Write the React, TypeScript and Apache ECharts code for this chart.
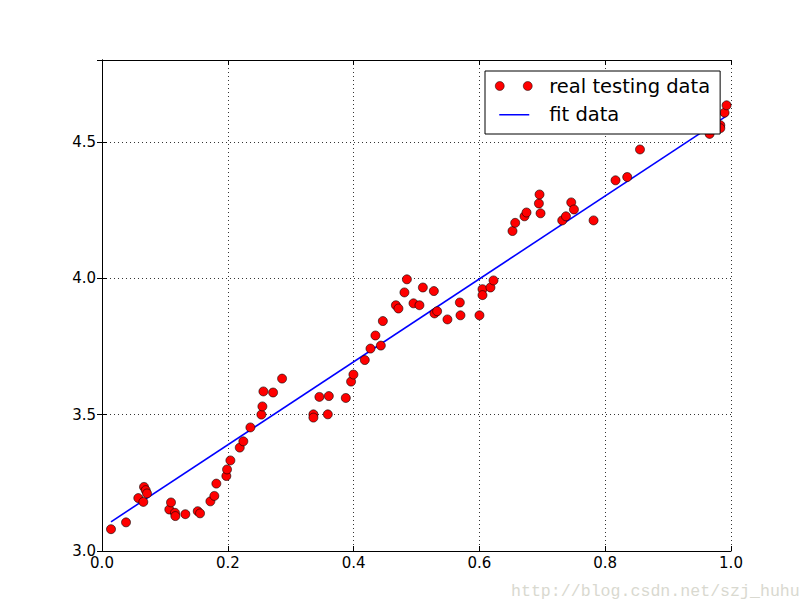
import React, { useEffect, useRef } from "react";
import * as echarts from "echarts";

// real testing data (x, y)
const realX = [
  0.0143, 0.0382, 0.0577, 0.0657, 0.0668, 0.0695, 0.0716, 0.107, 0.1097, 0.116,
  0.1166, 0.1325, 0.1522, 0.1559, 0.1723, 0.1786, 0.1818, 0.1977, 0.1988, 0.2041,
  0.219, 0.2247, 0.2359, 0.2534, 0.255, 0.2566, 0.272, 0.2863, 0.3361, 0.3361,
  0.359, 0.3456, 0.3606, 0.3876, 0.396, 0.3997, 0.4178, 0.4268, 0.4433, 0.4347,
  0.4465, 0.4672, 0.4713, 0.4808, 0.4847, 0.4952, 0.5047, 0.5101, 0.5276, 0.5286,
  0.5328, 0.5492, 0.5689, 0.5699, 0.6001, 0.6049, 0.6049, 0.6176, 0.6224, 0.6526,
  0.6569, 0.6717, 0.6749, 0.6946, 0.6956, 0.6972, 0.7317, 0.7376, 0.746, 0.7503,
  0.7815, 0.8164, 0.835, 0.8553, 0.966, 0.983, 0.983, 0.9898, 0.993,
];
const realY = [
  3.08, 3.105, 3.194, 3.18, 3.235, 3.223, 3.211, 3.152, 3.178, 3.14,
  3.128, 3.135, 3.146, 3.138, 3.182, 3.202, 3.247, 3.275, 3.299, 3.332,
  3.379, 3.402, 3.453, 3.5, 3.53, 3.585, 3.581, 3.632, 3.501, 3.489,
  3.501, 3.565, 3.568, 3.561, 3.621, 3.647, 3.7, 3.742, 3.753, 3.79,
  3.843, 3.901, 3.889, 3.948, 3.996, 3.908, 3.901, 3.966, 3.953, 3.871,
  3.879, 3.849, 3.911, 3.864, 3.864, 3.96, 3.938, 3.966, 3.992, 4.173,
  4.203, 4.227, 4.241, 4.274, 4.307, 4.238, 4.212, 4.227, 4.278, 4.252,
  4.212, 4.359, 4.371, 4.472, 4.529, 4.561, 4.55, 4.607, 4.634,
];

// fit data (line endpoints)
const fitX = [0.0143, 0.993];
const fitY = [3.107, 4.595];

const xTicks = [0, 0.2, 0.4, 0.6, 0.8, 1.0];
const yTicks = [3.0, 3.5, 4.0, 4.5];

const SERIES_REAL = "real testing data";
const SERIES_FIT = "fit data";
const WATERMARK = "http://blog.csdn.net/szj_huhu";

const twoDotsIcon =
  "path://M0,4.5A4.5,4.5,0,1,1,9,4.5A4.5,4.5,0,1,1,0,4.5ZM28,4.5A4.5,4.5,0,1,1,37,4.5A4.5,4.5,0,1,1,28,4.5Z";
const lineIcon = "path://M0,0L0,0M4,10H34V11.5H4ZM37,21L37,21";

export default function App() {
  const ref = useRef<HTMLDivElement>(null);

  useEffect(() => {
    if (!ref.current) return;
    const chart = echarts.init(ref.current, undefined, { renderer: "svg" });
    const font = "DejaVu Sans";
    const tickLabel = (v: number) =>
      yTicks.some((t) => Math.abs(t - v) < 1e-9) ? v.toFixed(1) : "";
    const xLabel = (v: number) =>
      xTicks.some((t) => Math.abs(t - v) < 1e-9) ? v.toFixed(1) : "";
    const axisTick = { show: true, inside: true, length: 5, lineStyle: { color: "#000", width: 1 } };
    const axisLine = { show: true, lineStyle: { color: "#000", width: 1 } };
    const splitLine = { show: true, lineStyle: { color: "#000", width: 0.8, type: [1, 3] } };

    chart.setOption({
      animation: false,
      backgroundColor: "#fff",
      grid: { left: 102, top: 60, right: 81, bottom: 61, show: false },
      xAxis: [
        {
          type: "value", min: 0, max: 1, interval: 0.2, position: "bottom",
          axisLine, axisTick, splitLine,
          axisLabel: { formatter: xLabel, fontFamily: font, fontSize: 15, color: "#000", margin: 4 },
        },
        {
          type: "value", min: 0, max: 1, interval: 0.2, position: "top",
          axisLine, axisTick, splitLine: { show: false }, axisLabel: { show: false },
        },
      ],
      yAxis: [
        {
          type: "value", min: 3, max: 4.8, interval: 0.5, position: "left",
          axisLine, axisTick, splitLine,
          axisLabel: { formatter: tickLabel, fontFamily: font, fontSize: 15, color: "#000", margin: 6 },
        },
        {
          type: "value", min: 3, max: 4.8, interval: 0.5, position: "right",
          axisLine, axisTick, splitLine: { show: false }, axisLabel: { show: false },
        },
      ],
      legend: {
        orient: "vertical",
        left: 485,
        top: 71,
        padding: [5, 10, 9, 10],
        itemGap: 8,
        itemWidth: 37,
        itemHeight: 22,
        backgroundColor: "#fff",
        borderColor: "#000",
        borderWidth: 1,
        borderRadius: 0,
        textStyle: { fontFamily: font, fontSize: 19.5, color: "#000", padding: [0, 0, 0, 12] },
        data: [
          { name: SERIES_REAL, icon: twoDotsIcon, itemStyle: { borderWidth: 0.5, opacity: 1 } },
          { name: SERIES_FIT, icon: lineIcon },
        ],
      },
      series: [
        {
          name: SERIES_REAL,
          type: "scatter",
          symbol: "circle",
          symbolSize: 9,
          itemStyle: { color: "#ff0000", borderColor: "#000", borderWidth: 0.6, opacity: 1 },
          data: realX.map((x, i) => [x, realY[i]]),
          z: 2,
        },
        {
          name: SERIES_FIT,
          type: "line",
          showSymbol: false,
          symbol: "none",
          lineStyle: { color: "#0000ff", width: 1.6 },
          itemStyle: { color: "#0000ff", borderWidth: 0 },
          data: fitX.map((x, i) => [x, fitY[i]]),
          z: 2,
        },
      ],
      graphic: [
        {
          type: "text",
          left: 511,
          top: 583,
          style: {
            text: WATERMARK,
            fontFamily: "Liberation Mono",
            fontSize: 16.6,
            fill: "#d9d9d0",
          },
        },
      ],
    });
    return () => chart.dispose();
  }, []);

  return (
    <div
      ref={ref}
      style={{ position: "absolute", left: 0, top: 0, width: 812, height: 612 }}
    />
  );
}
